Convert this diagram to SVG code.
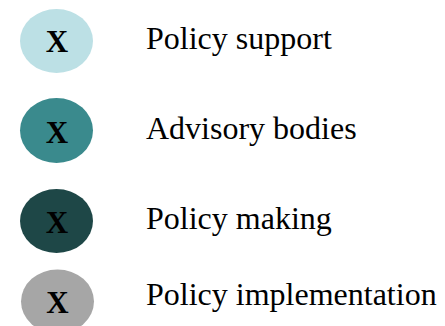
<svg xmlns="http://www.w3.org/2000/svg" width="445" height="326" viewBox="0 0 445 326">
<style>
.x{font-family:"Liberation Serif","Times New Roman",serif;font-weight:bold;font-size:31px;text-anchor:middle;fill:#000}
.lbl{font-family:"Liberation Serif","Times New Roman",serif;font-size:32px;fill:#000}
</style>
<rect width="445" height="326" fill="#fff"/>
<g id="policy-support">
<ellipse cx="56.5" cy="41" rx="36.5" ry="32" fill="#BCE0E5"/>
<text class="x" x="57" y="52">X</text>
<text class="lbl" x="146" y="49.3">Policy support</text>
</g>
<g id="advisory-bodies">
<ellipse cx="56.5" cy="130.5" rx="36.5" ry="32.5" fill="#3A8A8D"/>
<text class="x" x="57" y="143">X</text>
<text class="lbl" x="146" y="139.3">Advisory bodies</text>
</g>
<g id="policy-making">
<ellipse cx="56.5" cy="221" rx="36.5" ry="32" fill="#1E4747"/>
<text class="x" x="57" y="233">X</text>
<text class="lbl" x="146" y="229.3">Policy making</text>
</g>
<g id="policy-implementation">
<ellipse cx="57.5" cy="301.5" rx="36.5" ry="32" fill="#A6A6A6"/>
<text class="x" x="57.5" y="312.5">X</text>
<text class="lbl" x="146" y="305">Policy implementation</text>
</g>
<g id="connectors"></g>
</svg>
